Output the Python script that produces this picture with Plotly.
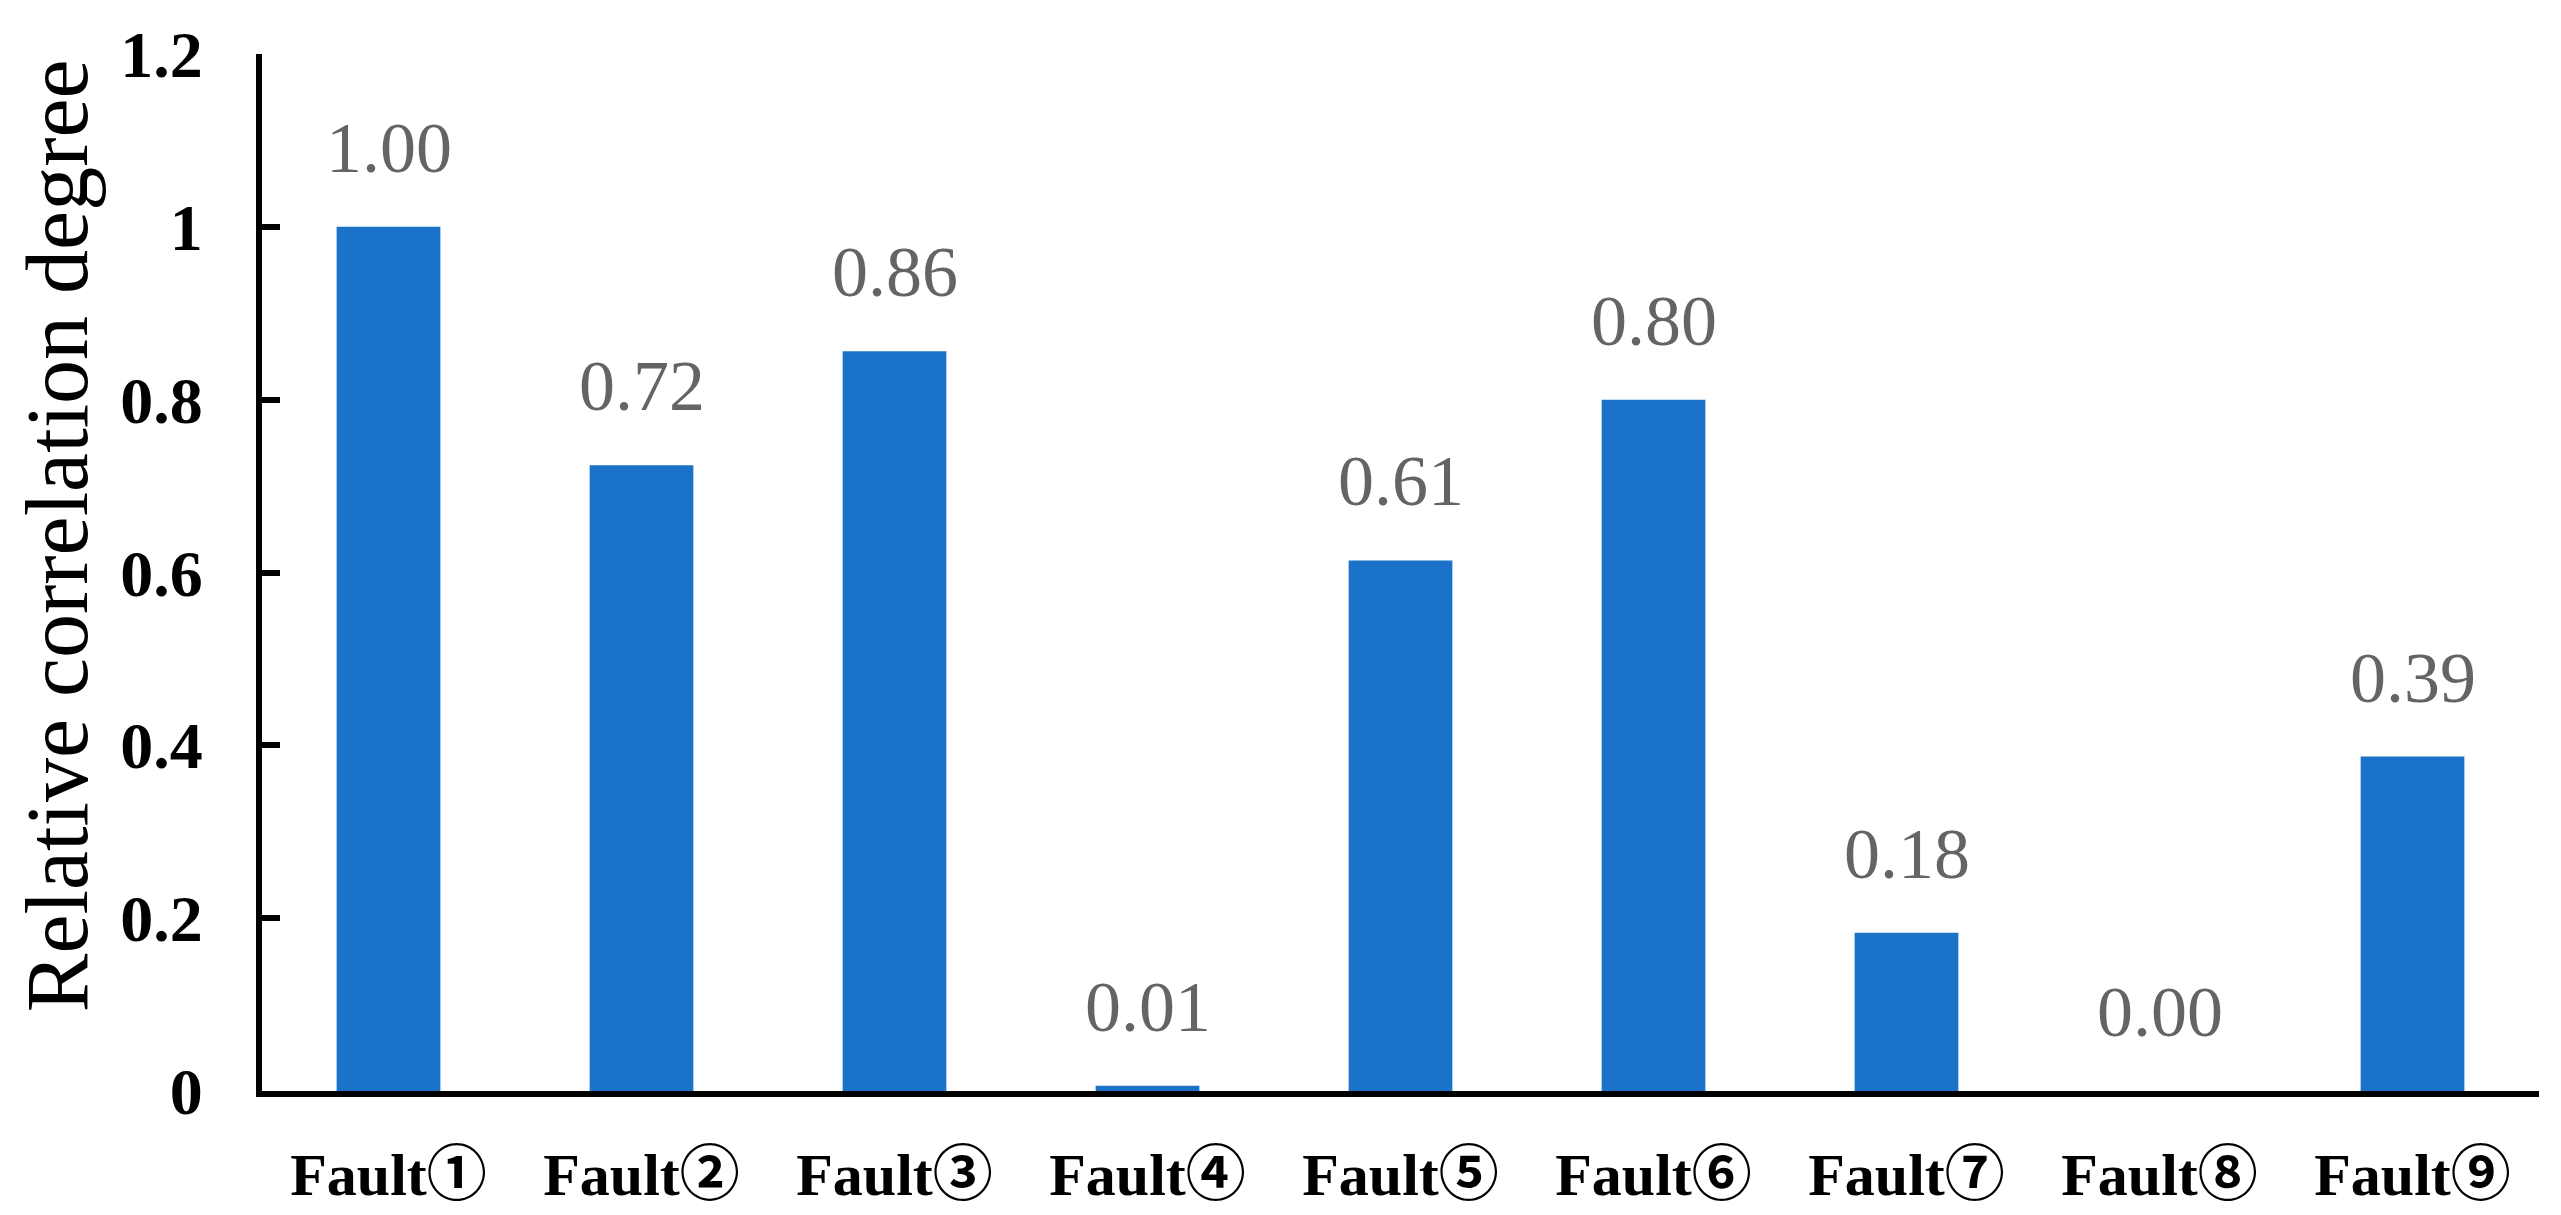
import plotly.graph_objects as go

# data
faults = ["Fault①", "Fault②", "Fault③", "Fault④", "Fault⑤",
          "Fault⑥", "Fault⑦", "Fault⑧", "Fault⑨"]
degree = [1.0, 0.724, 0.856, 0.006, 0.614, 0.80, 0.183, 0.0, 0.387]
y_ticks = [0, 0.2, 0.4, 0.6, 0.8, 1.0, 1.2]
y_tick_text = ["0", "0.2", "0.4", "0.6", "0.8", "1", "1.2"]
y_title = "Relative correlation degree"

SERIF = "Liberation Serif, Times New Roman, Noto Sans CJK JP, serif"
BAR_COLOR = "#1A73C8"

# the page body has an 8px margin, so the figure is made 16px smaller
# and the margins are trimmed to keep the plot area where the original has it
W, H, BODY = 2561, 1215, 8

fig = go.Figure()
fig.add_trace(go.Bar(
    x=faults, y=degree,
    marker=dict(color=BAR_COLOR, line=dict(width=0)),
    showlegend=False,
))

# value labels above each bar
for f, v in zip(faults, degree):
    fig.add_annotation(
        x=f, y=v, text=f"{v:.2f}", showarrow=False,
        yanchor="middle", yshift=79,
        font=dict(family=SERIF, size=72, color="#646464"),
    )

# y title as annotation so it can sit a little above centre, like the original
fig.add_annotation(
    xref="paper", yref="paper", x=-0.09, y=0.535,
    text=y_title, textangle=-90, showarrow=False,
    xanchor="center", yanchor="middle",
    font=dict(family=SERIF, size=88, color="black"),
)

fig.update_layout(
    width=W - 2 * BODY, height=H - 2 * BODY,
    margin=dict(l=262 - BODY, r=22 - BODY, t=54 - BODY, b=124 - BODY,
                autoexpand=False),
    paper_bgcolor="white", plot_bgcolor="white",
    bargap=0.59,
    font=dict(family=SERIF, color="black"),
)
fig.update_xaxes(
    type="category", range=[-0.5, 8.5], automargin=False,
    showline=True, linecolor="black", linewidth=6,
    ticks="", showgrid=False, zeroline=False,
    tickfont=dict(family=SERIF, size=60, color="black", weight="bold"),
    ticklabelstandoff=26,
)
fig.update_yaxes(
    range=[0, 1.2], tickvals=y_ticks, ticktext=y_tick_text, automargin=False,
    showline=True, linecolor="black", linewidth=6,
    ticks="inside", ticklen=18, tickwidth=6, tickcolor="black",
    showgrid=False, zeroline=False,
    tickfont=dict(family=SERIF, size=66, color="black", weight="bold"),
    ticklabelstandoff=40,
)

fig.write_html("out.html")
